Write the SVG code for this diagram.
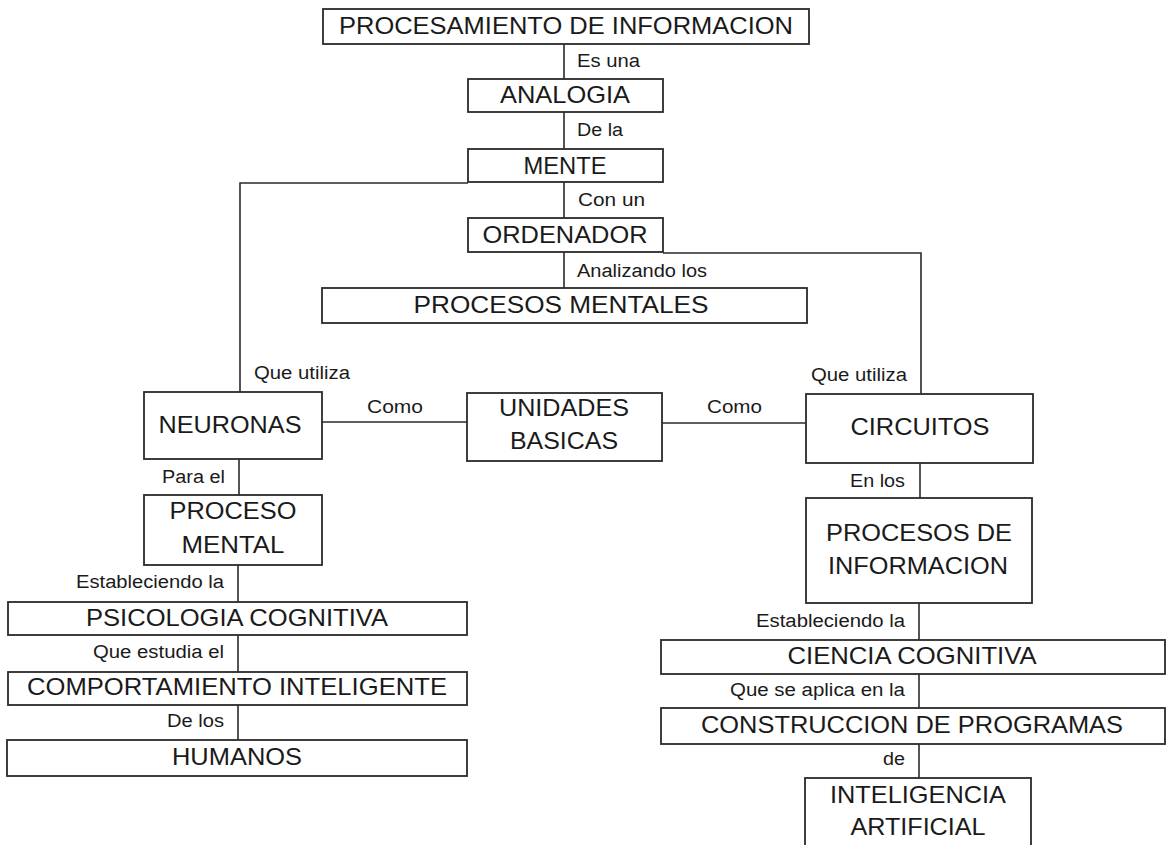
<svg xmlns="http://www.w3.org/2000/svg" width="1167" height="845" viewBox="0 0 1167 845">
<style>
  .box { fill: #ffffff; stroke: #2a2a2a; stroke-width: 1.8; }
  .conn { fill: none; stroke: #2a2a2a; stroke-width: 1.6; }
  .big { font-family: "Liberation Sans", Arial, sans-serif; font-size: 24px; fill: #1a1a1a; text-anchor: middle; }
  .lbl { font-family: "Liberation Sans", Arial, sans-serif; font-size: 18px; fill: #1a1a1a; }
  .end { text-anchor: end; }
</style>
<rect x="0" y="0" width="1167" height="845" fill="#ffffff"/>

<g id="connectors">
  <line class="conn" x1="564" y1="44" x2="564" y2="79"/>
  <line class="conn" x1="564" y1="112" x2="564" y2="149"/>
  <line class="conn" x1="564" y1="182" x2="564" y2="218"/>
  <line class="conn" x1="564" y1="252" x2="564" y2="288"/>
  <polyline class="conn" points="468,183 240,183 240,392"/>
  <polyline class="conn" points="663,253 921,253 921,394"/>
  <line class="conn" x1="322" y1="422" x2="467" y2="422"/>
  <line class="conn" x1="662" y1="423" x2="806" y2="423"/>
  <line class="conn" x1="239" y1="459" x2="239" y2="495"/>
  <line class="conn" x1="238" y1="565" x2="238" y2="602"/>
  <line class="conn" x1="238" y1="635" x2="238" y2="672"/>
  <line class="conn" x1="238" y1="705" x2="238" y2="740"/>
  <line class="conn" x1="920" y1="463" x2="920" y2="498"/>
  <line class="conn" x1="919" y1="603" x2="919" y2="640"/>
  <line class="conn" x1="919" y1="674" x2="919" y2="708"/>
  <line class="conn" x1="919" y1="744" x2="919" y2="778"/>

  <text class="lbl" x="577" y="67" textLength="63" lengthAdjust="spacingAndGlyphs">Es una</text>
  <text class="lbl" x="577" y="136" textLength="46" lengthAdjust="spacingAndGlyphs">De la</text>
  <text class="lbl" x="578" y="206" textLength="67" lengthAdjust="spacingAndGlyphs">Con un</text>
  <text class="lbl" x="577" y="277" textLength="130" lengthAdjust="spacingAndGlyphs">Analizando los</text>
  <text class="lbl" x="254" y="379" textLength="96" lengthAdjust="spacingAndGlyphs">Que utiliza</text>
  <text class="lbl" x="367" y="413" textLength="56" lengthAdjust="spacingAndGlyphs">Como</text>
  <text class="lbl" x="707" y="413" textLength="55" lengthAdjust="spacingAndGlyphs">Como</text>
  <text class="lbl" x="811" y="381" textLength="96" lengthAdjust="spacingAndGlyphs">Que utiliza</text>
  <text class="lbl" x="162" y="483" textLength="63" lengthAdjust="spacingAndGlyphs">Para el</text>
  <text class="lbl" x="850" y="487" textLength="55" lengthAdjust="spacingAndGlyphs">En los</text>
  <text class="lbl" x="76" y="588" textLength="148" lengthAdjust="spacingAndGlyphs">Estableciendo la</text>
  <text class="lbl" x="93" y="658" textLength="131" lengthAdjust="spacingAndGlyphs">Que estudia el</text>
  <text class="lbl" x="167" y="727" textLength="57" lengthAdjust="spacingAndGlyphs">De los</text>
  <text class="lbl" x="756" y="627" textLength="149" lengthAdjust="spacingAndGlyphs">Estableciendo la</text>
  <text class="lbl" x="730" y="696" textLength="175" lengthAdjust="spacingAndGlyphs">Que se aplica en la</text>
  <text class="lbl" x="883" y="765" textLength="22" lengthAdjust="spacingAndGlyphs">de</text>
</g>

<g id="n-procesamiento">
  <rect class="box" x="323" y="9" width="486" height="35"/>
  <text class="big" x="566" y="34" textLength="454" lengthAdjust="spacingAndGlyphs">PROCESAMIENTO DE INFORMACION</text>
</g>
<g id="n-analogia">
  <rect class="box" x="468" y="79" width="195" height="33"/>
  <text class="big" x="565" y="103" textLength="130" lengthAdjust="spacingAndGlyphs">ANALOGIA</text>
</g>
<g id="n-mente">
  <rect class="box" x="468" y="149" width="195" height="33"/>
  <text class="big" x="565" y="174" textLength="83" lengthAdjust="spacingAndGlyphs">MENTE</text>
</g>
<g id="n-ordenador">
  <rect class="box" x="468" y="218" width="195" height="34"/>
  <text class="big" x="565" y="243" textLength="165" lengthAdjust="spacingAndGlyphs">ORDENADOR</text>
</g>
<g id="n-procesos-mentales">
  <rect class="box" x="322" y="288" width="485" height="35"/>
  <text class="big" x="561" y="313" textLength="295" lengthAdjust="spacingAndGlyphs">PROCESOS MENTALES</text>
</g>
<g id="n-neuronas">
  <rect class="box" x="144" y="392" width="178" height="67"/>
  <text class="big" x="230" y="433" textLength="143" lengthAdjust="spacingAndGlyphs">NEURONAS</text>
</g>
<g id="n-unidades">
  <rect class="box" x="467" y="393" width="195" height="68"/>
  <text class="big" x="564" y="416" textLength="130" lengthAdjust="spacingAndGlyphs">UNIDADES</text>
  <text class="big" x="564" y="449" textLength="108" lengthAdjust="spacingAndGlyphs">BASICAS</text>
</g>
<g id="n-circuitos">
  <rect class="box" x="806" y="394" width="227" height="69"/>
  <text class="big" x="920" y="435" textLength="139" lengthAdjust="spacingAndGlyphs">CIRCUITOS</text>
</g>
<g id="n-proceso-mental">
  <rect class="box" x="144" y="495" width="178" height="70"/>
  <text class="big" x="233" y="519" textLength="127" lengthAdjust="spacingAndGlyphs">PROCESO</text>
  <text class="big" x="233" y="553" textLength="103" lengthAdjust="spacingAndGlyphs">MENTAL</text>
</g>
<g id="n-psicologia">
  <rect class="box" x="8" y="602" width="459" height="33"/>
  <text class="big" x="237" y="626" textLength="302" lengthAdjust="spacingAndGlyphs">PSICOLOGIA COGNITIVA</text>
</g>
<g id="n-comportamiento">
  <rect class="box" x="8" y="672" width="459" height="33"/>
  <text class="big" x="237" y="695" textLength="420" lengthAdjust="spacingAndGlyphs">COMPORTAMIENTO INTELIGENTE</text>
</g>
<g id="n-humanos">
  <rect class="box" x="7" y="740" width="460" height="36"/>
  <text class="big" x="237" y="765" textLength="130" lengthAdjust="spacingAndGlyphs">HUMANOS</text>
</g>
<g id="n-procesos-info">
  <rect class="box" x="806" y="498" width="226" height="105"/>
  <text class="big" x="919" y="541" textLength="186" lengthAdjust="spacingAndGlyphs">PROCESOS DE</text>
  <text class="big" x="918" y="574" textLength="180" lengthAdjust="spacingAndGlyphs">INFORMACION</text>
</g>
<g id="n-ciencia">
  <rect class="box" x="661" y="640" width="504" height="34"/>
  <text class="big" x="912" y="664" textLength="249" lengthAdjust="spacingAndGlyphs">CIENCIA COGNITIVA</text>
</g>
<g id="n-construccion">
  <rect class="box" x="661" y="708" width="504" height="36"/>
  <text class="big" x="912" y="733" textLength="422" lengthAdjust="spacingAndGlyphs">CONSTRUCCION DE PROGRAMAS</text>
</g>
<g id="n-ia">
  <rect class="box" x="805" y="778" width="226" height="80"/>
  <text class="big" x="918" y="803" textLength="176" lengthAdjust="spacingAndGlyphs">INTELIGENCIA</text>
  <text class="big" x="918" y="835" textLength="135" lengthAdjust="spacingAndGlyphs">ARTIFICIAL</text>
</g>
</svg>
